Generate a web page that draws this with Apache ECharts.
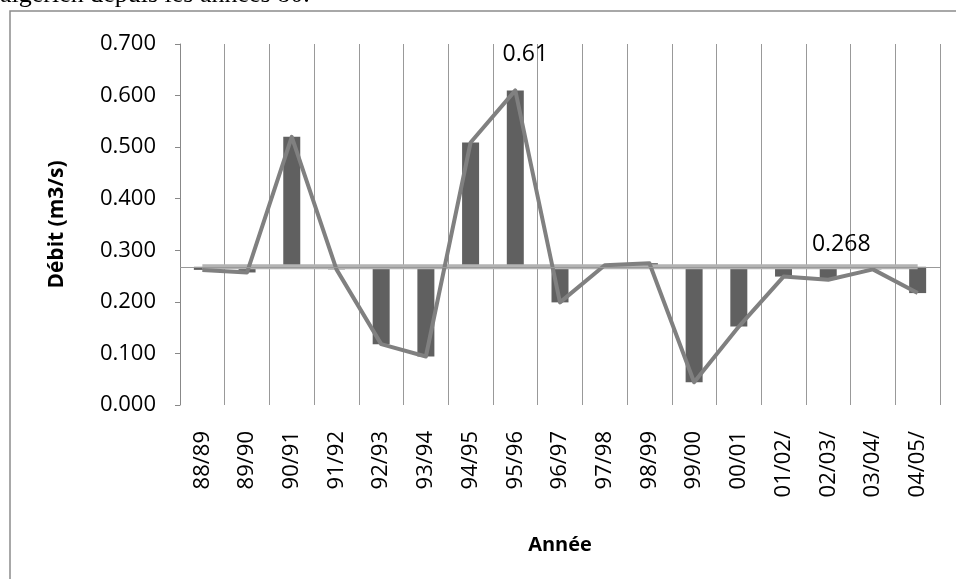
<!DOCTYPE html>
<html>
<head>
<meta charset="utf-8">
<script src="https://cdn.jsdelivr.net/npm/echarts@6/dist/echarts.min.js"></script>
<style>
  html, body { margin: 0; padding: 0; background: #fff; }
  #chart { width: 956px; height: 579px; }
</style>
</head>
<body>
<div id="chart"></div>
<script>
// Débit annuel (m3/s) par année hydrologique
const years = ['88/89', '89/90', '90/91', '91/92', '92/93', '93/94', '94/95', '95/96', '96/97',
  '97/98', '98/99', '99/00', '00/01', '01/02/', '02/03/', '03/04/', '04/05/'];
const debit = [0.262, 0.257, 0.520, 0.263, 0.118, 0.094, 0.509, 0.610, 0.199,
  0.271, 0.275, 0.044, 0.152, 0.249, 0.243, 0.263, 0.217];
const moyenne = 0.268;

const font = '"Open Sans", "Liberation Sans", sans-serif';

const chart = echarts.init(document.getElementById('chart'));
chart.setOption({
  animation: false,
  backgroundColor: '#fff',
  graphic: [
    {
      type: 'text', left: 0, top: -18, silent: true,
      style: { text: 'algérien depuis les années 80.', font: '26px "Liberation Serif", serif', fill: '#000' }
    },
    {
      type: 'rect', silent: true, shape: { x: 10, y: 11, width: 960, height: 600 },
      style: { fill: 'none', stroke: '#8c8c8c', lineWidth: 1.5 }
    }
  ],
  grid: { left: 180, right: 16, top: 44, bottom: 174 },
  xAxis: {
    type: 'category',
    data: years,
    name: 'Année',
    nameLocation: 'middle',
    nameGap: 130,
    nameTextStyle: { fontFamily: font, fontWeight: 'bold', fontSize: 20, color: '#000' },
    axisLine: { show: false },
    axisTick: { show: false },
    axisLabel: { rotate: 90, margin: 26, fontFamily: font, fontSize: 22, color: '#000' },
    splitLine: { show: true, lineStyle: { color: '#999', width: 1 } }
  },
  yAxis: [
    {
      type: 'value',
      min: 0, max: 0.7, interval: 0.1,
      name: 'Débit (m3/s)',
      nameLocation: 'middle',
      nameGap: 112,
      nameTextStyle: { fontFamily: font, fontWeight: 'bold', fontSize: 21, color: '#000' },
      axisLine: { show: true, lineStyle: { color: '#888', width: 1 } },
      axisTick: { show: true, length: 5, lineStyle: { color: '#888' } },
      axisLabel: {
        margin: 24, fontFamily: font, fontSize: 22, color: '#000',
        formatter: v => v.toFixed(3)
      },
      splitLine: { show: false }
    },
    {
      // même échelle, décalée pour que les barres partent de la moyenne
      type: 'value', show: false,
      min: -moyenne, max: 0.7 - moyenne,
      splitLine: { show: false }
    }
  ],
  series: [
    {
      name: 'Écart',
      type: 'bar',
      yAxisIndex: 1,
      barWidth: 17,
      itemStyle: { color: '#606060' },
      data: debit.map(v => +(v - moyenne).toFixed(3)),
      markLine: {
        silent: true, symbol: 'none', label: { show: false },
        lineStyle: { color: '#999', width: 1, type: 'solid' },
        data: [{ yAxis: 0 }]
      },
      z: 2
    },
    {
      name: 'Moyenne',
      type: 'line',
      data: years.map((y, i) => i === 14
        ? { value: moyenne, label: { show: true, position: 'top', offset: [13, -6], fontFamily: font, fontSize: 23, color: '#000', formatter: String(moyenne) } }
        : moyenne),
      showSymbol: true,
      symbol: 'circle',
      symbolSize: 0,
      lineStyle: { color: '#b3b3b3', width: 5 },
      z: 3
    },
    {
      name: 'Débit',
      type: 'line',
      data: debit.map((v, i) => i === 7
        ? { value: v, label: { show: true, position: 'top', offset: [10, -19], fontFamily: font, fontSize: 23, color: '#000', formatter: '0.61' } }
        : v),
      showSymbol: true,
      symbol: 'circle',
      symbolSize: 0,
      lineStyle: { color: '#808080', width: 4, join: 'round' },
      z: 4
    }
  ]
});
</script>
</body>
</html>
